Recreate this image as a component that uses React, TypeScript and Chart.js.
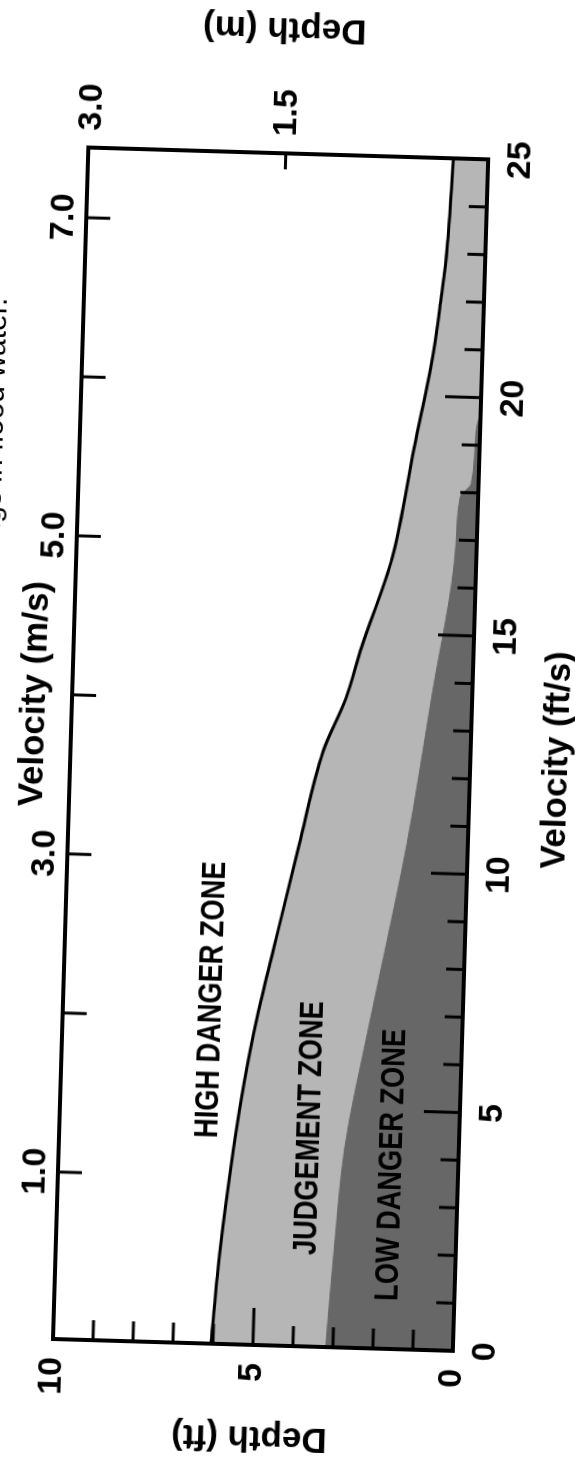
import React, { useEffect, useRef } from "react";
import { Chart, registerables } from "chart.js";

Chart.register(...registerables);

// ---------------- data ----------------
const captionText = "Danger zones for buildings in flood water.";

const velocityTitle = "Velocity (ft/s)";
const velocityMsTitle = "Velocity (m/s)";
const depthTitle = "Depth (ft)";
const depthMTitle = "Depth (m)";

const velocityTickValues = [0, 5, 10, 15, 20, 25];
const velocityTickLabels = ["0", "5", "10", "15", "20", "25"];
const velocityMinorTicks = [1, 2, 3, 4, 6, 7, 8, 9, 11, 12, 13, 14, 16, 17, 18, 19, 21, 22, 23, 24];

const depthTickValues = [0, 5, 10];
const depthTickLabels = ["0", "5", "10"];
const depthMinorTicks = [1, 2, 3, 4, 6, 7, 8, 9];

const velocityMsTickValues = [1, 2, 3, 4, 5, 6, 7];
const velocityMsTickLabels = ["1.0", "", "3.0", "", "5.0", "", "7.0"];

const depthMTickValues = [1.5, 3.0];
const depthMTickLabels = ["1.5", "3.0"];

// boundary between HIGH DANGER and JUDGEMENT zones (velocity ft/s, depth ft)
const highBoundaryVelocity = [0, 2, 4.1, 5.5, 6.9, 8.3, 10.5, 12.5, 13.6, 14.7, 16.6, 18.9, 21.0, 22.1, 23.1, 25];
const highBoundaryDepth = [6.05, 5.89, 5.63, 5.41, 5.13, 4.78, 4.22, 3.68, 3.16, 2.8, 2.1, 1.64, 1.21, 1.07, 0.96, 0.87];

// boundary between JUDGEMENT and LOW DANGER zones
const lowBoundaryVelocity = [0, 2.06, 4.2, 6.6, 8.4, 10.55, 13.7, 16.9, 17.9, 18.2, 19.3, 19.7];
const lowBoundaryDepth = [3.18, 3.04, 2.85, 2.37, 1.98, 1.53, 1.01, 0.52, 0.45, 0.18, 0.1, 0];

const zoneNames = ["HIGH DANGER ZONE", "JUDGEMENT ZONE", "LOW DANGER ZONE"];
const zoneVelocity = [7.21, 4.58, 3.86];
const zoneDepth = [6.28, 3.73, 1.66];

// ---------------- layout / style ----------------
const CW = 1512;
const CH = 605;
const AREA_LEFT = 150;
const AREA_TOP = 95;
const AREA_W = 1192;
const AREA_H = 400;

const FAMILY = '"Liberation Sans", Arial, Helvetica, sans-serif';
const tickFont = { family: FAMILY, size: 34, weight: "bold" as const };
const titleFontStr = `bold 35px ${FAMILY}`;
const zoneFontStr = `bold 34px ${FAMILY}`;

const LIGHT = "#b6b6b6";
const DARK = "#676767";

function line(ctx: any, x1: number, y1: number, x2: number, y2: number) {
  ctx.beginPath();
  ctx.moveTo(x1, y1);
  ctx.lineTo(x2, y2);
  ctx.stroke();
}

function text(ctx: any, t: string, x: number, y: number, rot: number, font: string, align = "center", baseline = "middle", sx = 1) {
  ctx.save();
  ctx.translate(x, y);
  if (rot) ctx.rotate(rot);
  if (sx !== 1) ctx.scale(sx, 1);
  ctx.font = font;
  ctx.fillStyle = "#000";
  ctx.textAlign = align;
  ctx.textBaseline = baseline;
  ctx.fillText(t, 0, 0);
  ctx.restore();
}

const decorPlugin = {
  id: "decor",
  afterDatasetsDraw(chart: any) {
    const { ctx, chartArea: ca, scales } = chart;
    const { x, y, x2, y2 } = scales;
    ctx.save();
    ctx.strokeStyle = "#000";
    ctx.lineWidth = 3;
    velocityMinorTicks.forEach((v) => {
      const p = x.getPixelForValue(v);
      line(ctx, p, ca.bottom, p, ca.bottom - 18);
    });
    velocityTickValues.forEach((v) => {
      if (v <= 0 || v >= 25) return;
      const p = x.getPixelForValue(v);
      line(ctx, p, ca.bottom, p, ca.bottom - 36);
    });
    depthMinorTicks.forEach((d) => {
      const p = y.getPixelForValue(d);
      line(ctx, ca.left, p, ca.left + 20, p);
    });
    depthTickValues.forEach((d) => {
      if (d <= 0 || d >= 10) return;
      const p = y.getPixelForValue(d);
      line(ctx, ca.left, p, ca.left + 37, p);
    });
    velocityMsTickValues.forEach((v) => {
      const p = x2.getPixelForValue(v);
      line(ctx, p, ca.top, p, ca.top + 24);
    });
    depthMTickValues.forEach((d) => {
      if (d >= 3) return;
      const p = y2.getPixelForValue(d);
      line(ctx, ca.right, p, ca.right - 16, p);
    });
    ctx.restore();

    zoneNames.forEach((name, i) => {
      text(ctx, name, x.getPixelForValue(zoneVelocity[i]), y.getPixelForValue(zoneDepth[i]), 0, zoneFontStr, "center", "middle", 0.8);
    });
  },
  afterDraw(chart: any) {
    const { ctx, chartArea: ca, scales } = chart;
    const { x, y, x2 } = scales;
    text(ctx, velocityTitle, x.getPixelForValue(12.45), ca.bottom + 87, 0, titleFontStr);
    text(ctx, velocityMsTitle, x2.getPixelForValue(4.0), ca.top - 37, 0, titleFontStr);
    text(ctx, depthTitle, ca.left - 92, y.getPixelForValue(5.03), -Math.PI / 2, titleFontStr);
    text(ctx, depthMTitle, ca.right + 125, y.getPixelForValue(5.18), -Math.PI / 2, titleFontStr);
    text(ctx, captionText, x.getPixelForValue(21.8), ca.top - 77, 0, `30px ${FAMILY}`, "right", "alphabetic");
  },
};

function fixedTicks(values: number[]) {
  return (scale: any) => {
    scale.ticks = values.map((v) => ({ value: v }));
  };
}

export default function App() {
  const ref = useRef<HTMLCanvasElement | null>(null);

  useEffect(() => {
    if (!ref.current) return;
    const border = { display: true, width: 4, color: "#000", z: 1 };
    const grid = { display: false, drawTicks: false, lineWidth: 4 };
    const chart = new Chart(ref.current, {
      type: "line",
      data: {
        datasets: [
          {
            label: "Low danger boundary",
            data: lowBoundaryVelocity.map((v, i) => ({ x: v, y: lowBoundaryDepth[i] })),
            borderColor: DARK,
            borderWidth: 1,
            backgroundColor: DARK,
            fill: "origin",
            pointRadius: 0,
            cubicInterpolationMode: "monotone",
          },
          {
            label: "High danger boundary",
            data: highBoundaryVelocity.map((v, i) => ({ x: v, y: highBoundaryDepth[i] })),
            borderColor: "#000",
            borderWidth: 3,
            backgroundColor: LIGHT,
            fill: "origin",
            pointRadius: 0,
            cubicInterpolationMode: "monotone",
          },
        ],
      },
      options: {
        animation: false,
        responsive: false,
        maintainAspectRatio: false,
        events: [],
        layout: { padding: 0 },
        plugins: { legend: { display: false }, tooltip: { enabled: false }, title: { display: false } },
        scales: {
          x: {
            type: "linear",
            position: "bottom",
            min: 0,
            max: 25,
            afterBuildTicks: fixedTicks(velocityTickValues),
            afterFit: (s: any) => { s.height = CH - AREA_TOP - AREA_H; },
            ticks: { font: tickFont, color: "#000", padding: 12, maxRotation: 0, autoSkip: false,
              callback: (_v: any, i: number) => velocityTickLabels[i] },
            grid, border,
          },
          x2: {
            type: "linear",
            position: "top",
            min: -0.05,
            max: 7.441,
            afterBuildTicks: fixedTicks(velocityMsTickValues),
            afterFit: (s: any) => { s.height = AREA_TOP; },
            ticks: { font: tickFont, color: "#000", padding: 2, maxRotation: 0, autoSkip: false,
              callback: (_v: any, i: number) => velocityMsTickLabels[i] },
            grid, border,
          },
          y: {
            type: "linear",
            position: "left",
            min: 0,
            max: 10,
            afterBuildTicks: fixedTicks(depthTickValues),
            afterFit: (s: any) => { s.width = AREA_LEFT; },
            ticks: { font: tickFont, color: "#000", padding: 18, autoSkip: false,
              callback: (_v: any, i: number) => depthTickLabels[i] },
            grid, border,
          },
          y2: {
            type: "linear",
            position: "right",
            min: -0.062,
            max: 3.024,
            afterBuildTicks: fixedTicks(depthMTickValues),
            afterFit: (s: any) => { s.width = CW - AREA_LEFT - AREA_W; },
            ticks: { font: tickFont, color: "#000", padding: 17, autoSkip: false,
              callback: (_v: any, i: number) => depthMTickLabels[i] },
            grid, border,
          },
        },
      },
      plugins: [decorPlugin],
    } as any);
    return () => chart.destroy();
  }, []);

  return (
    <div style={{ position: "fixed", left: 0, top: 0, width: 575, height: 1459, overflow: "hidden", background: "#fff" }}>
      <div
        style={{
          position: "absolute",
          left: 0,
          top: 0,
          width: CW,
          height: CH,
          transformOrigin: "0 0",
          transform: "translate(-46.41px, 1486.11px) rotate(-88.3deg)",
        }}
      >
        <canvas ref={ref} width={CW} height={CH} style={{ display: "block", width: CW, height: CH }} />
      </div>
    </div>
  );
}
